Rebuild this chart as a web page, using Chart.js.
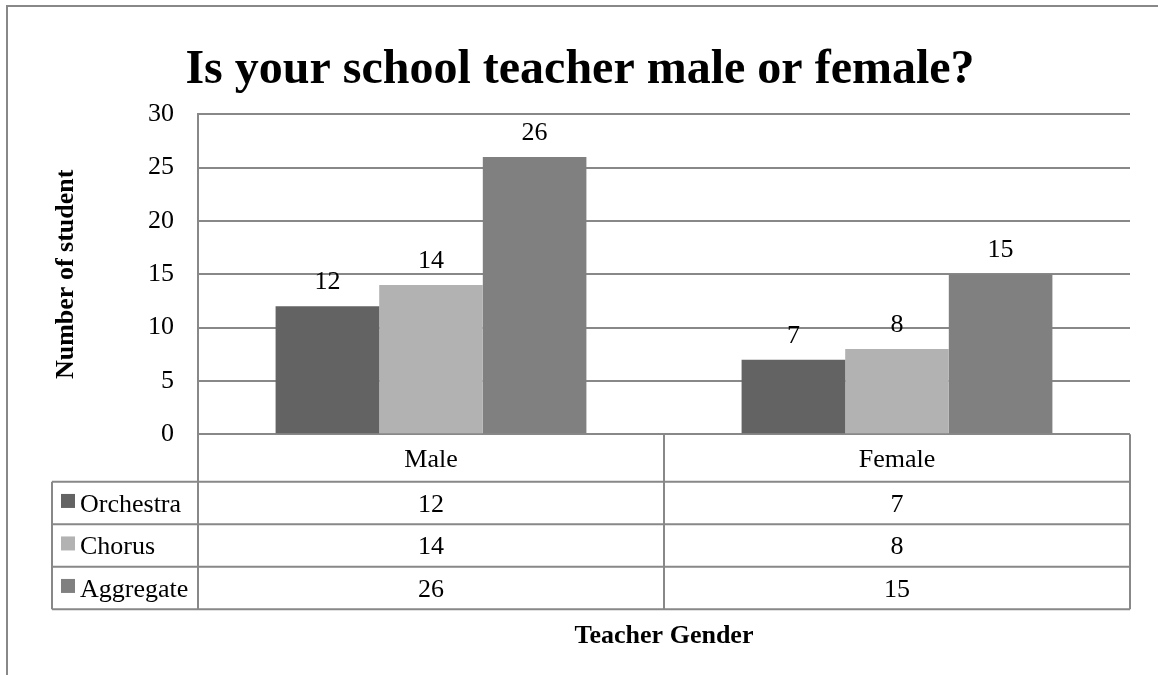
<!DOCTYPE html>
<html>
<head>
<meta charset="utf-8">
<script src="https://cdn.jsdelivr.net/npm/chart.js@4.4.1/dist/chart.umd.min.js"></script>
<style>
  html, body { margin: 0; padding: 0; background: #ffffff; }
  #wrap { width: 1158px; height: 675px; }
</style>
</head>
<body>
<div id="wrap"><canvas id="c" width="1158" height="675"></canvas></div>
<script>
const titleText = "Is your school teacher male or female?";
const categories = ["Male", "Female"];
const seriesNames = ["Orchestra", "Chorus", "Aggregate"];
const orchestra = [12, 7];
const chorus = [14, 8];
const aggregate = [26, 15];
const yTicks = [0, 5, 10, 15, 20, 25, 30];
const yAxisTitle = "Number of student";
const xAxisTitle = "Teacher Gender";
const seriesColors = ["#636363", "#b2b2b2", "#808080"];

const SERIF = "'Liberation Serif', 'Times New Roman', serif";
const LINE = "#888888";

const tablePlugin = {
  id: 'tablePlugin',
  beforeDraw(chart) {
    const ctx = chart.ctx;
    ctx.save();
    ctx.fillStyle = '#ffffff';
    ctx.fillRect(0, 0, chart.width, chart.height);
    ctx.strokeStyle = LINE;
    ctx.lineWidth = 2;
    ctx.beginPath();
    ctx.moveTo(7, chart.height);
    ctx.lineTo(7, 6);
    ctx.lineTo(chart.width, 6);
    ctx.stroke();
    ctx.restore();
  },
  afterDraw(chart) {
    const ctx = chart.ctx;
    const area = chart.chartArea;
    const xs = chart.scales.x;
    const headerH = 47.4;
    const rowH = 42.5;
    const legendLeft = 52;
    const headerBottom = area.bottom + headerH;
    const tableBottom = headerBottom + rowH * seriesNames.length;
    const centers = categories.map((c, i) => xs.getPixelForValue(i));
    const dividers = [];
    for (let i = 0; i < centers.length - 1; i++) dividers.push((centers[i] + centers[i + 1]) / 2);

    ctx.save();
    ctx.strokeStyle = LINE;
    ctx.lineWidth = 2;
    ctx.beginPath();
    [area.left, area.right, ...dividers].forEach(x => {
      ctx.moveTo(x, area.bottom);
      ctx.lineTo(x, tableBottom);
    });
    ctx.moveTo(legendLeft, headerBottom);
    ctx.lineTo(legendLeft, tableBottom);
    for (let r = 0; r <= seriesNames.length; r++) {
      const y = headerBottom + r * rowH;
      ctx.moveTo(legendLeft, y);
      ctx.lineTo(area.right, y);
    }
    ctx.stroke();

    ctx.fillStyle = '#000000';
    ctx.font = "26px " + SERIF;
    ctx.textAlign = 'center';
    ctx.textBaseline = 'alphabetic';
    categories.forEach((c, i) => {
      ctx.fillText(c, centers[i], area.bottom + headerH / 2 + 9);
    });
    const allSeries = [orchestra, chorus, aggregate];
    seriesNames.forEach((name, r) => {
      const cy = headerBottom + r * rowH + rowH / 2;
      ctx.fillStyle = seriesColors[r];
      ctx.fillRect(legendLeft + 9, cy - 9, 14, 14);
      ctx.fillStyle = '#000000';
      ctx.textAlign = 'left';
      ctx.fillText(name, legendLeft + 28, cy + 9);
      ctx.textAlign = 'center';
      allSeries[r].forEach((v, i) => {
        ctx.fillText(String(v), centers[i], cy + 9);
      });
    });

    chart.data.datasets.forEach((ds, di) => {
      const meta = chart.getDatasetMeta(di);
      meta.data.forEach((bar, i) => {
        ctx.fillText(String(ds.data[i]), bar.x, bar.y - 17);
      });
    });
    ctx.restore();
  }
};

new Chart(document.getElementById('c'), {
  type: 'bar',
  data: {
    labels: categories,
    datasets: [
      { label: seriesNames[0], data: orchestra, backgroundColor: seriesColors[0] },
      { label: seriesNames[1], data: chorus, backgroundColor: seriesColors[1] },
      { label: seriesNames[2], data: aggregate, backgroundColor: seriesColors[2] }
    ]
  },
  options: {
    responsive: false,
    animation: false,
    devicePixelRatio: 1,
    layout: { padding: { left: 30, right: 28, top: 0, bottom: 0 } },
    datasets: { bar: { categoryPercentage: 0.667, barPercentage: 1.0, borderWidth: 0 } },
    plugins: {
      legend: { display: false },
      tooltip: { enabled: false },
      title: {
        display: true,
        text: titleText,
        color: '#000000',
        font: { family: SERIF, size: 48, weight: 'bold', lineHeight: 1.2 },
        padding: { top: 42, bottom: 14.7 }
      }
    },
    scales: {
      x: {
        ticks: { display: false },
        grid: { display: false },
        border: { display: false },
        title: {
          display: true,
          text: xAxisTitle,
          color: '#000000',
          font: { family: SERIF, size: 26, weight: 'bold', lineHeight: 1.2 },
          padding: { top: 0, bottom: 23.5 }
        },
        afterFit(scale) { scale.height = 240.7; }
      },
      y: {
        min: 0,
        max: 30,
        afterBuildTicks(scale) { scale.ticks = yTicks.map(v => ({ value: v })); },
        ticks: {
          color: '#000000',
          font: { family: SERIF, size: 26 },
          padding: 24
        },
        grid: { color: LINE, lineWidth: 2, drawTicks: false },
        border: { display: true, color: LINE, width: 2 },
        title: {
          display: true,
          text: yAxisTitle,
          color: '#000000',
          font: { family: SERIF, size: 26, weight: 'bold', lineHeight: 1.2 },
          padding: { top: 21, bottom: 0 }
        },
        afterFit(scale) { scale.width = 168; }
      }
    }
  },
  plugins: [tablePlugin]
});
</script>
</body>
</html>
